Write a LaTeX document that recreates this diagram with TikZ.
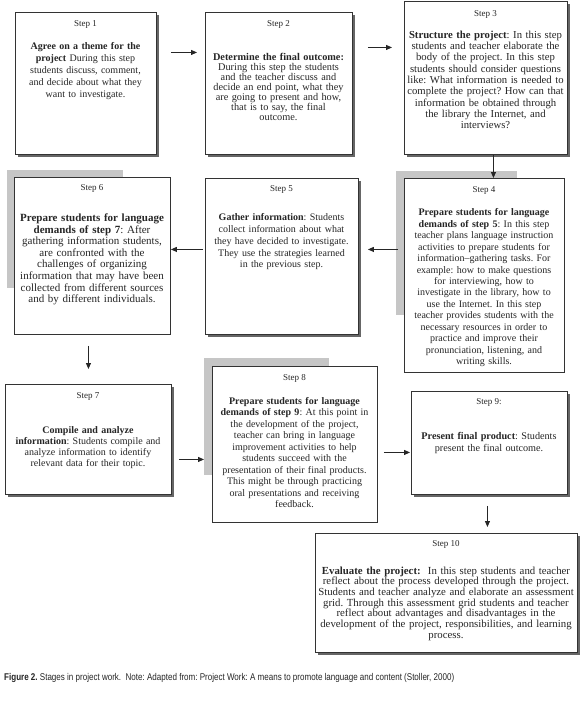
\documentclass[tikz,border=0pt]{standalone}
\usepackage{fontspec}
\setmainfont{Liberation Serif}
\newfontfamily\capfont{Liberation Sans}[FakeStretch=0.82]
\usetikzlibrary{arrows.meta,shadows}
\tikzset{
  box/.style={draw=black!80, line width=0.9pt, fill=white, inner sep=0pt, anchor=north west},
  shad/.style={drop shadow={shadow xshift=2.2pt, shadow yshift=-2.2pt, fill=black!60, opacity=1}},
  steplbl/.style={font=\fontsize{9}{10}\selectfont, anchor=base, inner sep=0pt, text=black!85},
  body/.style={align=center, anchor=base, inner sep=0pt, text=black!85},
  arr/.style={-{Triangle[length=6pt,width=5pt]}, line width=0.9pt, draw=black!85},
  graybk/.style={fill=gray!45}
}
\frenchspacing
\begin{document}
\begin{tikzpicture}[x=1pt,y=-1pt]
\useasboundingbox (0,0) rectangle (579,702);
\fill[white] (0,0) rectangle (579,702);
% gray blocks
\fill[graybk] (396,171) rectangle (517,315);
\fill[graybk] (7,170) rectangle (123,288);
\fill[graybk] (204,358) rectangle (329,475);
% boxes
\node[box, shad, minimum width=141pt, minimum height=142pt] (s1) at (15,12) {};
\node[box, shad, minimum width=147pt, minimum height=142pt] (s2) at (205,12) {};
\node[box, shad, minimum width=163pt, minimum height=153pt] (s3) at (404,1) {};
\node[box, minimum width=160pt, minimum height=194pt] (s4) at (404,178) {};
\node[box, shad, minimum width=153pt, minimum height=156pt] (s5) at (205,178) {};
\node[box, minimum width=156pt, minimum height=157pt] (s6) at (14,177) {};
\node[box, shad, minimum width=166pt, minimum height=110pt] (s7) at (5,384) {};
\node[box, minimum width=165pt, minimum height=156pt] (s8) at (212,366) {};
\node[box, shad, minimum width=156pt, minimum height=103pt] (s9) at (411,391) {};
\node[box, shad, minimum width=262pt, minimum height=119pt] (s10) at (315,533) {};
% step labels
\node[steplbl] (l1) at (85.5,26) {Step 1};
\node[steplbl] (l2) at (278.5,26) {Step 2};
\node[steplbl] (l3) at (485.5,16) {Step 3};
\node[steplbl] (l4) at (484,192) {Step 4};
\node[steplbl] (l5) at (281.5,191) {Step 5};
\node[steplbl] (l6) at (92,190) {Step 6};
\node[steplbl] (l7) at (88,398) {Step 7};
\node[steplbl] (l8) at (294.5,380) {Step 8};
\node[steplbl] (l9) at (489,404) {Step 9:};
\node[steplbl] (l10) at (446,546) {Step 10};
% bodies
\node[body, text width=170pt, font=\fontsize{10}{12}\selectfont] (t1) at (85.5,49)
 {\textbf{Agree on a theme for the}\\\textbf{project} During this step\\students discuss, comment,\\and decide about what they\\want to investigate.};
\node[body, text width=180pt, font=\fontsize{10.3}{10}\selectfont] (t2) at (278.5,60)
 {\textbf{Determine the final outcome:}\\During this step the students\\and the teacher discuss and\\decide an end point, what they\\are going to present and how,\\that is to say, the final\\outcome.};
\node[body, text width=190pt, font=\fontsize{10.7}{11.3}\selectfont] (t3) at (485.5,38.3)
 {\textbf{Structure the project}: In this step\\students and teacher elaborate the\\body of the project. In this step\\students should consider questions\\like: What information is needed to\\complete the project? How can that\\information be obtained through\\the library the Internet, and\\interviews?};
\node[body, text width=190pt, font=\fontsize{10}{11.46}\selectfont] (t4) at (484,215.7)
 {\textbf{Prepare students for language}\\\textbf{demands of step 5}: In this step\\teacher plans language instruction\\activities to prepare students for\\information--gathering tasks. For\\example: how to make questions\\for interviewing, how to\\investigate in the library, how to\\use the Internet. In this step\\teacher provides students with the\\necessary resources in order to\\practice and improve their\\pronunciation, listening, and\\writing skills.};
\node[body, text width=180pt, font=\fontsize{10}{11.8}\selectfont] (t5) at (281.5,220.7)
 {\textbf{Gather information}: Students\\collect information about what\\they have decided to investigate.\\They use the strategies learned\\in the previous step.};
\node[body, text width=190pt, font=\fontsize{11}{11.6}\selectfont] (t6) at (92,221.4)
 {\textbf{Prepare students for language}\\\textbf{demands of step 7}: After\\gathering information students,\\are confronted with the\\challenges of organizing\\information that may have been\\collected from different sources\\and by different individuals.};
\node[body, text width=190pt, font=\fontsize{10}{11.3}\selectfont] (t7) at (88,433)
 {\textbf{Compile and analyze}\\\textbf{information}: Students compile and\\analyze information to identify\\relevant data for their topic.};
\node[body, text width=190pt, font=\fontsize{10}{11.5}\selectfont] (t8) at (294.5,404)
 {\textbf{Prepare students for language}\\\textbf{demands of step 9}: At this point in\\the development of the project,\\teacher can bring in language\\improvement activities to help\\students succeed with the\\presentation of their final products.\\This might be through practicing\\oral presentations and receiving\\feedback.};
\node[body, text width=180pt, font=\fontsize{10.2}{11.6}\selectfont] (t9) at (489,439.7)
 {\textbf{Present final product}: Students\\present the final outcome.};
\node[body, text width=290pt, font=\fontsize{10.8}{10.7}\selectfont] (t10) at (446,574)
 {\textbf{Evaluate the project:}\ \ In this step students and teacher\\reflect about the process developed through the project.\\Students and teacher analyze and elaborate an assessment\\grid. Through this assessment grid students and teacher\\reflect about advantages and disadvantages in the\\development of the project, responsibilities, and learning\\process.};
% caption
\node[anchor=base west, inner sep=0pt, text=black!85, font=\capfont\fontsize{9.8}{11}\selectfont] (cap) at (4,680)
 {\textbf{Figure 2.} Stages in project work.\ \ Note: Adapted from: Project Work: A means to promote language and content (Stoller, 2000)};
% connectors
\draw[arr, shorten <=14pt, shorten >=8pt] ([yshift=31pt]s1.east) -- ([yshift=31pt]s2.west);
\draw[arr, shorten <=15pt, shorten >=12pt] ([yshift=36pt]s2.east) -- ([yshift=30.5pt]s3.west);
\draw[arr] ([xshift=7.5pt]s3.south) -- ([xshift=9pt]s4.north);
\draw[arr, shorten <=6pt, shorten >=9pt] ([yshift=26pt]s4.west) -- ([yshift=7pt]s5.east);
\draw[arr, shorten <=2pt] ([yshift=7pt]s5.west) -- ([yshift=6.5pt]s6.east);
\draw[arr, shorten <=11pt, shorten >=15pt] ([xshift=-4pt]s6.south) -- (s7.north);
\draw[arr, shorten <=7pt, shorten >=8pt] ([yshift=-20pt]s7.east) -- ([yshift=-15pt]s8.west);
\draw[arr, shorten <=6pt, shorten >=1pt] ([yshift=-8pt]s8.east) -- ([yshift=-9.5pt]s9.west);
\draw[arr, shorten <=11pt, shorten >=6pt] ([xshift=-2pt]s9.south) -- ([xshift=41pt]s10.north);
\end{tikzpicture}
\end{document}
